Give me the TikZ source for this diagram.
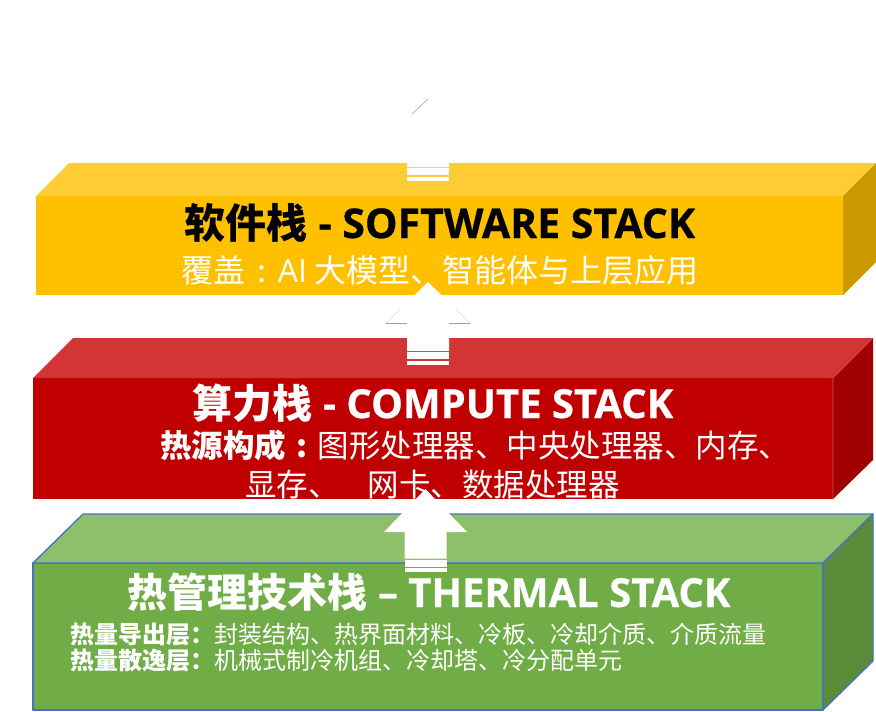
\documentclass[tikz,border=0pt]{standalone}
\usepackage{fontspec}
\setmainfont{Noto Sans CJK SC}
\newfontfamily\lat{Open Sans}
\newfontfamily\latb{Open Sans}[BoldFeatures={FakeBold=0.6}]
\newcommand\LT[1]{{\lat #1}}
\newcommand\LTB[1]{{\latb #1}}
\definecolor{yfront}{HTML}{FFC000}
\definecolor{ytop}{HTML}{FFCC33}
\definecolor{yside}{HTML}{CC9A00}
\definecolor{rfront}{HTML}{C00000}
\definecolor{rtop}{HTML}{D33535}
\definecolor{rside}{HTML}{A00000}
\definecolor{redge}{HTML}{D65050}
\definecolor{gfront}{HTML}{70AD47}
\definecolor{gtop}{HTML}{8EBF6B}
\definecolor{gside}{HTML}{5A8B38}
\definecolor{gedge}{HTML}{4472C4}
\newcommand\striparrow[5]{% cx, half head, tip y, base y, body end y
  \fill[white] (#1-#2,#4) -- (#1,#3) -- (#1+#2,#4) -- (#1+21,#4) -- (#1+21,#5)
     -- (#1-21,#5) -- (#1-21,#4) -- cycle;
  \fill[white] (#1-21,#5+1.2) rectangle (#1+21,#5+8.3);
  \fill[white] (#1-21,#5+9.5) rectangle (#1+21,#5+13.5);
}
\begin{document}
\begin{tikzpicture}[x=1pt,y=-1pt,
  txt/.style={inner sep=0pt, anchor=base},
  ttlsty/.style={txt, font=\bfseries\fontsize{41}{46}\selectfont},
  ttlsm/.style={txt, font=\bfseries\fontsize{40}{45}\selectfont},
  bigline/.style={txt, anchor=base west, text=white, font=\fontsize{31.5}{38}\selectfont},
  smallline/.style={txt, anchor=base west, text=white, font=\fontsize{24}{30}\selectfont}]
\useasboundingbox (0,0) rectangle (876,712);
% green box
\begin{scope}[draw=gedge, line width=1.3pt, line join=round]
\filldraw[fill=gfront] (33,563) rectangle (823,710);
\filldraw[fill=gtop] (33,563) -- (83,514) -- (873,514) -- (823,563) -- cycle;
\filldraw[fill=gside] (823,563) -- (873,514) -- (873,661) -- (823,710) -- cycle;
\end{scope}
% red box
\fill[rfront] (33,378) rectangle (833,499);
\fill[rtop] (33,378) -- (73,338) -- (873,338) -- (833,378) -- cycle;
\fill[rside] (833,378) -- (873,338) -- (873,460) -- (833,499) -- cycle;
\draw[redge, line width=0.6pt] (833,499) -- (833,378) -- (873,338);
% yellow box
\fill[yfront] (36,196) rectangle (843,295);
\fill[ytop] (36,196) -- (69,163) -- (876,163) -- (843,196) -- cycle;
\fill[yside] (843,196) -- (876,163) -- (876,262) -- (843,295) -- cycle;
% arrows
\striparrow{425.5}{41.5}{489}{532}{558.5}
\striparrow{428}{42}{282}{323}{351}
\striparrow{428}{42}{99}{140}{167}
\draw[gray!75, line width=0.8pt] (386,323) -- (407,323) (449,323) -- (470,323);
\draw[gray!35, line width=0.6pt] (386,323) -- (400,309) (470,323) -- (456,309);
\draw[gray!65, line width=0.7pt] (412,114) -- (428,99);
% texts
\node[ttlsty, text=black] (swt) at (440,238) {软件栈\LTB{ - SOFTWARE STACK}};
\node[txt, text=white, font=\fontsize{32}{38}\selectfont] (swd) at (440,282) {覆盖\makebox[32pt]{:}\LT{AI} 大模型、智能体与上层应用};
\node[ttlsm, text=white] (cpt) at (433,418) {算力栈\LTB{ - COMPUTE STACK}};
\node[bigline] (cpd1) at (160,457) {{\bfseries 热源构成\makebox[31.5pt]{:}}图形处理器、中央处理器、内存、};
\node[bigline] (cpd2) at (245,496) {显存、\hspace{28pt}网卡、数据处理器};
\node[ttlsm, text=white] (tht) at (429,607) {热管理技术栈\LTB{ – THERMAL STACK}};
\node[smallline] (thd1) at (70,643) {{\bfseries 热量导出层：}封装结构、热界面材料、冷板、冷却介质、介质流量};
\node[smallline] (thd2) at (70,669) {{\bfseries 热量散逸层：}机械式制冷机组、冷却塔、冷分配单元};
\end{tikzpicture}
\end{document}
